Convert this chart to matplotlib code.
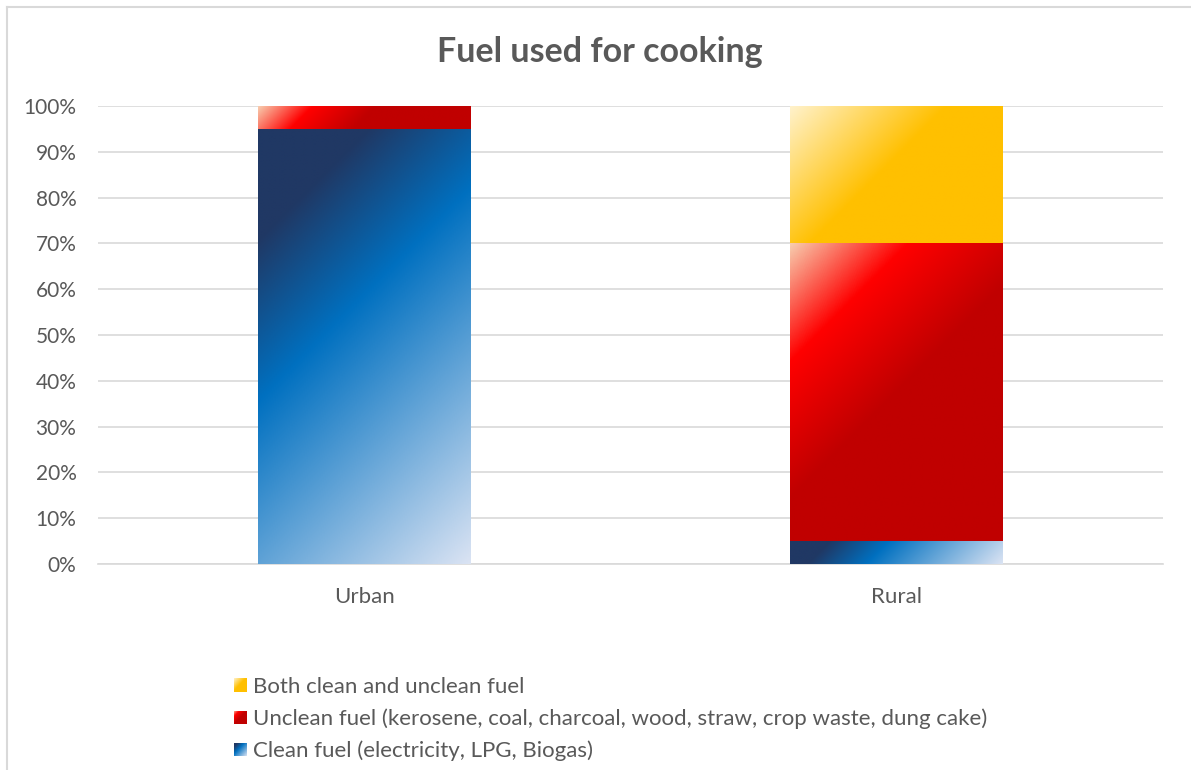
import numpy as np
import matplotlib
matplotlib.use("Agg")
import matplotlib.pyplot as plt
from matplotlib.colors import LinearSegmentedColormap
from matplotlib.lines import Line2D
from matplotlib.patches import Rectangle

# data (percent of households)
categories = ["Urban", "Rural"]
series_labels = ["Clean fuel (electricity, LPG, Biogas)",
                 "Unclean fuel (kerosene, coal, charcoal, wood, straw, crop waste, dung cake)",
                 "Both clean and unclean fuel"]
clean = [95, 5]
unclean = [5, 65]
both = [0, 30]
series_values = [clean, unclean, both]

# Excel-style gradient fills (45 degrees, top-left -> bottom-right)
cmaps = [
    LinearSegmentedColormap.from_list("blue", [(0, "#203864"), (0.17, "#203864"), (0.42, "#0070C0"), (1, "#DAE3F3")]),
    LinearSegmentedColormap.from_list("red", [(0, "#F8CBAD"), (0.23, "#FF0000"), (0.5, "#C00000"), (1, "#C00000")]),
    LinearSegmentedColormap.from_list("gold", [(0, "#FFF2CC"), (0.45, "#FFC000"), (1, "#FFC000")]),
]
mid_colors = ["#0070C0", "#E00000", "#FFC000"]

txt = "#595959"
grid = "#D9D9D9"
plt.rcParams["font.family"] = ["Lato", "DejaVu Sans"]


def gradient(w, h, n=200):
    # t measured along a 45 degree line in pixel space
    gx, gy = np.meshgrid(np.linspace(0, 1, n), np.linspace(0, 1, n))
    return (gx * w + gy * h) / (w + h)


fig = plt.figure(figsize=(11.91, 7.70), dpi=100)
ax = fig.add_axes([98 / 1191, 1 - 564 / 770, 1065 / 1191, 458 / 770])
ax.set_xlim(-0.5, 1.5)
ax.set_ylim(0, 100)

x = np.arange(len(categories))
bottom = np.zeros(len(categories))
for vals, cmap in zip(series_values, cmaps):
    bars = ax.bar(x, vals, width=0.4, bottom=bottom, color="none", linewidth=0, zorder=3)
    for b in bars:
        if b.get_height() <= 0:
            continue
        x0, y0 = b.get_x(), b.get_y()
        ext = b.get_window_extent(fig.canvas.get_renderer())
        im = ax.imshow(cmap(gradient(ext.width, ext.height)),
                       extent=[x0, x0 + b.get_width(), y0, y0 + b.get_height()],
                       origin="upper", aspect="auto", zorder=3, interpolation="bilinear")
        im.set_clip_path(b)
    bottom += np.array(vals)

ax.set_xlim(-0.5, 1.5)
ax.set_ylim(0, 100)
ax.set_yticks(np.arange(0, 101, 10))
ax.set_yticklabels([f"{v}%" for v in range(0, 101, 10)])
ax.set_xticks(x)
ax.set_xticklabels(categories)
ax.tick_params(length=0, colors=txt)
ax.tick_params(axis="y", labelsize=15, pad=15.5)
ax.tick_params(axis="x", labelsize=16, pad=16.5)
ax.grid(axis="y", color=grid, linewidth=1.2, zorder=0)
for s in ["left", "right", "top"]:
    ax.spines[s].set_visible(False)
ax.spines["bottom"].set_color(grid)
ax.spines["bottom"].set_linewidth(1.2)

fig.text(600 / 1191, 1 - 52 / 770, "Fuel used for cooking", ha="center", va="center",
         fontsize=24.5, fontweight="bold", color=txt)

# legend (reverse order, like Excel)
handles = [Rectangle((0, 0), 1, 1, facecolor=mid_colors[i]) for i in [2, 1, 0]]
leg = fig.legend(handles, [series_labels[i] for i in [2, 1, 0]], loc="upper left",
                 bbox_to_anchor=(234 / 1191, 1 - 677 / 770), frameon=False,
                 fontsize=16, labelcolor=txt, handlelength=0.55, handleheight=0.55,
                 handletextpad=0.3, labelspacing=0.52, borderpad=0, borderaxespad=0)

# overlay gradient squares on legend handles
fig.canvas.draw()
for h, i in zip(leg.legend_handles, [2, 1, 0]):
    bb = h.get_window_extent().transformed(fig.transFigure.inverted())
    lax = fig.add_axes([bb.x0, bb.y0, bb.width, bb.height])
    lax.set_zorder(20)
    lax.imshow(cmaps[i](gradient(1, 1)), aspect="auto", interpolation="bilinear")
    lax.axis("off")

# chart border (left and top edges visible)
fig.add_artist(Line2D([6.5 / 1191, 6.5 / 1191], [0, 1 - 7 / 770], color=grid, linewidth=1.5))
fig.add_artist(Line2D([6.5 / 1191, 1], [1 - 7 / 770, 1 - 7 / 770], color=grid, linewidth=1.5))

fig.savefig("out.png", dpi=100)
